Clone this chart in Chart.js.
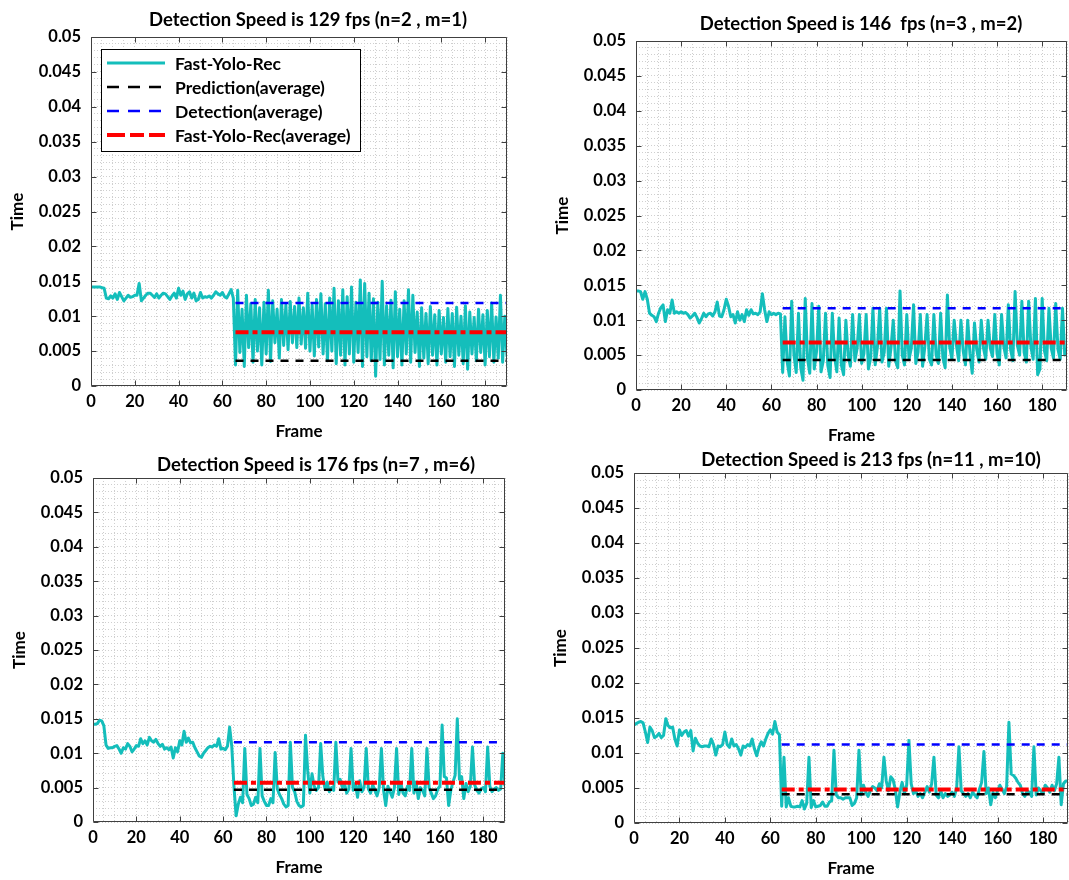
<!DOCTYPE html>
<html>
<head>
<meta charset="utf-8">
<title>Fast-Yolo-Rec timing</title>
<script src="https://cdn.jsdelivr.net/npm/chart.js@4.4.1/dist/chart.umd.min.js"></script>
<style>
  html, body { margin: 0; padding: 0; background: #fff; overflow: hidden; }
  body { width: 1069px; height: 880px; position: relative; }
  canvas { position: absolute; }
</style>
</head>
<body>
<canvas id="p1"></canvas>
<canvas id="p2"></canvas>
<canvas id="p3"></canvas>
<canvas id="p4"></canvas>
<script>
// ---- data (times in milliseconds, one value per frame starting at frame 0) ----
const panelTitles = [
  'Detection Speed is 129 fps (n=2 , m=1)',
  'Detection Speed is 146  fps (n=3 , m=2)',
  'Detection Speed is 176 fps (n=7 , m=6)',
  'Detection Speed is 213 fps (n=11 , m=10)'
];
const seriesLabels = ['Fast-Yolo-Rec', 'Prediction(average)', 'Detection(average)', 'Fast-Yolo-Rec(average)'];
const frameMax = [190, 191, 190, 191];
const avgStart = [66, 65, 65, 65];
const predictionAvg = [3.6, 4.3, 4.7, 4.1];
const detectionAvg = [11.9, 11.7, 11.6, 11.2];
const recAvg = [7.7, 6.8, 5.7, 4.8];
const xTickLabels = [0, 20, 40, 60, 80, 100, 120, 140, 160, 180];
const yTickLabels = [0, 0.005, 0.01, 0.015, 0.02, 0.025, 0.03, 0.035, 0.04, 0.045, 0.05];

const recTimeN2 = [
  14.2,14.2,14.2,14.2,14.2,14.1,14.0,12.6,12.5,12.9,
  12.6,13.2,12.4,13.4,12.8,12.2,12.6,13.0,12.7,12.8,
  13.0,13.0,14.7,12.2,12.6,13.0,13.3,13.3,13.0,12.7,
  13.2,12.6,13.0,13.3,13.2,12.8,12.4,12.9,13.3,12.6,
  14.0,13.0,13.6,12.4,13.2,13.5,12.6,13.3,12.2,12.4,
  13.4,12.6,12.8,12.7,12.9,12.6,13.0,13.5,13.2,13.0,
  13.4,12.8,12.6,13.2,13.8,12.6,
  3.0,13.7,4.8,11.0,
  2.8,13.0,5.5,11.8,3.4,12.4,5.0,11.2,3.0,12.0,
  4.6,13.7,3.5,12.2,6.2,11.0,4.0,12.4,5.8,11.6,
  5.2,12.1,6.2,11.4,5.5,12.6,6.0,11.2,5.4,13.3,
  5.0,11.6,4.3,12.4,5.6,13.2,4.6,11.8,3.6,12.6,
  5.0,14.0,3.2,12.2,4.4,13.8,3.0,12.8,4.6,14.2,
  3.4,12.0,4.8,15.2,2.8,14.7,4.2,13.3,3.6,12.5,
  1.4,12.0,3.8,15.0,3.0,11.5,4.4,12.3,2.6,13.5,
  4.2,11.0,3.0,12.2,4.6,13.8,3.4,13.0,4.8,10.6,
  2.8,11.2,4.0,10.4,3.2,11.4,4.4,10.2,3.0,10.8,
  4.6,9.8,3.4,11.1,4.2,10.4,2.8,11.3,4.4,10.0,
  3.2,11.5,2.4,10.6,4.6,9.8,3.6,11.0,4.8,10.2,
  3.0,10.8,4.2,11.9,3.4,9.9,4.0,13.0,3.4,10.0,4.2
];
const recTimeN3 = [
  14.2,14.2,14.1,13.0,14.1,13.0,11.0,10.7,10.5,9.8,
  11.0,11.8,12.2,9.8,11.5,11.0,12.9,11.0,11.2,11.0,
  11.2,11.0,11.1,10.8,10.3,10.6,11.0,10.4,9.6,10.2,
  11.0,10.5,10.9,11.0,10.6,11.2,12.6,10.6,10.5,11.5,
  13.0,12.0,10.5,10.8,9.6,11.2,10.0,10.8,9.8,11.5,
  10.7,11.5,10.9,11.0,10.8,11.2,13.8,11.5,9.8,11.2,
  10.8,11.0,10.8,11.0,10.9,
  2.5,10.5,4.0,2.0,12.7,
  5.0,2.5,11.0,3.2,1.4,13.1,4.5,2.4,12.4,3.0,
  5.5,12.0,2.6,4.2,11.0,3.5,1.8,11.0,4.8,2.6,
  10.3,3.6,2.2,10.0,5.0,3.4,10.8,4.2,6.0,10.8,
  3.8,5.2,10.8,3.0,4.6,11.7,3.6,6.2,11.7,4.0,
  5.4,11.7,3.4,6.0,10.0,4.2,3.2,14.2,5.0,3.6,
  10.8,4.4,6.0,12.2,3.8,5.4,10.8,3.4,6.2,10.8,
  4.4,3.6,10.8,5.0,3.8,11.0,4.6,3.2,13.6,6.2,
  4.4,10.0,6.4,4.2,10.0,5.6,3.6,10.0,5.2,2.4,
  9.6,5.8,4.0,10.0,6.0,4.4,10.0,6.0,4.8,10.8,
  5.2,3.6,10.8,6.2,4.6,12.2,5.8,4.2,14.1,6.4,
  5.0,12.7,5.4,4.0,12.7,6.2,4.4,13.1,2.2,3.0,
  13.1,5.6,4.2,11.7,6.0,4.6,12.4,5.8,4.4,11.7,5.0,6.0
];
const recTimeN7 = [
  14.2,14.2,14.3,14.8,14.7,14.0,11.2,10.7,10.8,10.8,
  11.0,11.1,10.6,10.0,10.8,10.6,11.4,11.0,10.2,10.6,
  11.1,11.0,12.1,11.4,11.8,11.2,12.3,11.8,11.6,12.0,
  11.4,11.0,11.3,10.6,10.8,10.5,10.9,9.3,10.8,10.2,
  11.8,11.2,13.2,11.6,12.2,11.5,11.6,10.8,10.2,9.6,
  9.4,10.0,10.4,10.8,11.0,10.9,11.2,11.0,12.1,10.6,
  10.7,10.5,11.0,13.8,11.0,5.2,0.9,
  2.6,3.6,2.8,
  10.7,4.0,3.4,2.4,2.6,3.6,2.8,
  10.7,3.8,3.0,2.4,2.4,3.4,2.8,
  10.1,4.8,4.0,3.4,2.6,2.2,2.4,
  11.6,5.0,4.4,3.0,2.4,2.2,2.4,
  12.6,7.5,4.2,7.0,5.2,4.6,5.0,
  11.4,6.6,4.8,5.8,4.4,5.0,4.6,
  11.6,5.8,6.2,5.0,5.6,4.2,4.8,
  10.7,4.6,5.6,3.6,6.0,4.4,5.0,
  10.7,4.8,4.2,5.4,4.6,3.8,5.0,
  10.7,4.6,2.4,5.2,4.4,3.6,5.0,
  10.7,4.0,5.6,4.2,3.8,5.2,4.6,
  10.7,4.2,5.8,3.4,5.0,4.6,3.8,
  10.7,5.0,4.2,3.4,3.8,4.8,5.2,
  14.1,6.6,6.4,2.4,4.6,5.8,6.8,
  15.0,6.2,6.6,3.4,5.6,4.4,5.2,
  10.9,5.4,4.6,4.2,4.8,5.0,4.4,
  10.9,5.2,4.4,4.8,5.0,4.6,4.8,
  10.0,5.2
];
const recTimeN11 = [
  14.0,14.2,14.4,14.5,14.3,13.0,11.5,13.7,13.2,12.2,
  12.4,12.8,12.2,12.5,14.9,13.9,13.6,13.7,12.0,11.0,
  13.3,12.5,13.0,13.2,12.4,13.2,10.3,12.1,11.4,11.0,
  10.9,11.0,11.0,10.9,12.0,11.2,9.7,11.0,10.9,11.2,
  13.0,11.2,10.8,12.0,11.0,11.2,10.6,9.7,11.0,10.8,
  11.2,11.0,12.0,10.6,9.6,10.8,11.6,11.0,12.0,12.8,
  13.3,12.7,14.5,13.0,12.6,2.4,
  9.4,2.3,3.6,2.4,2.3,2.3,2.4,2.3,3.2,2.0,2.8,
  9.4,2.2,3.2,2.3,2.4,2.5,3.0,2.4,2.4,3.0,3.2,
  10.4,4.0,3.6,3.6,3.4,3.6,3.6,3.6,2.5,2.8,3.6,
  10.4,4.0,5.4,4.4,3.8,4.6,5.2,5.0,4.6,5.6,5.0,
  9.4,6.0,4.6,6.6,6.2,4.8,2.3,4.4,5.8,4.2,5.4,
  11.8,5.6,4.2,4.6,3.8,4.2,3.6,4.4,5.2,4.4,5.6,
  9.4,4.0,3.6,4.6,3.6,4.2,3.8,4.0,4.4,3.8,5.0,
  10.9,4.6,4.2,3.8,4.2,3.6,4.4,4.0,3.6,4.8,5.8,
  10.2,4.2,5.0,2.6,4.4,3.6,4.6,5.4,4.8,4.2,5.2,
  14.4,7.0,6.8,6.4,5.8,5.4,4.2,3.8,4.6,4.4,3.8,
  10.9,4.0,5.0,4.6,4.2,5.4,5.0,4.4,5.4,4.6,5.6,
  9.4,2.6,5.6,6.0,6.0
];
const recTimes = [recTimeN2, recTimeN3, recTimeN7, recTimeN11];

// ---- layout of the four panels (page pixels) ----
const panels = [
  { id: 'p1', left: 0,   top: 0,   w: 517, h: 442, padTop: 37, xAxisH: 56, title: [308, 20.5], legend: true },
  { id: 'p2', left: 545, top: 4,   w: 532, h: 442, padTop: 37, xAxisH: 56, title: [316, 20],   legend: false },
  { id: 'p3', left: 2,   top: 441, w: 513, h: 437, padTop: 37, xAxisH: 56, title: [314, 24],   legend: false },
  { id: 'p4', left: 543, top: 436, w: 535, h: 443, padTop: 37, xAxisH: 56, title: [328, 24],   legend: false }
];

const FONT = 'Lato, "Open Sans", sans-serif';
const CYAN = 'rgb(20,190,187)';

// frame box with MATLAB style inward ticks on all four sides
const frameTicks = {
  id: 'frameTicks',
  afterDatasetsDraw(chart) {
    const { ctx, chartArea: a, scales: { x, y } } = chart;
    const L = Math.round(a.left) + 0.5, R = Math.round(a.right) - 0.5;
    const T = Math.round(a.top) + 0.5, B = Math.round(a.bottom) - 0.5;
    ctx.save();
    ctx.strokeStyle = '#404040';
    ctx.lineWidth = 1;
    ctx.beginPath();
    xTickLabels.forEach(v => {
      const px = Math.round(x.getPixelForValue(v)) + 0.5;
      ctx.moveTo(px, B); ctx.lineTo(px, B - 5);
      ctx.moveTo(px, T); ctx.lineTo(px, T + 5);
    });
    yTickLabels.forEach(v => {
      const py = Math.round(y.getPixelForValue(v)) + 0.5;
      ctx.moveTo(L, py); ctx.lineTo(L + 5, py);
      ctx.moveTo(R, py); ctx.lineTo(R - 5, py);
    });
    ctx.rect(L, T, R - L, B - T);
    ctx.stroke();
    ctx.restore();
  }
};

const panelTitle = {
  id: 'panelTitle',
  afterDraw(chart, args, opts) {
    const { ctx } = chart;
    ctx.save();
    ctx.font = 'bold 18.5px ' + FONT;
    ctx.fillStyle = '#000';
    ctx.textAlign = 'center';
    ctx.textBaseline = 'middle';
    ctx.fillText(opts.text, opts.x, opts.y);
    ctx.restore();
  }
};

// boxed legend drawn inside the plot area (top-left), like the MATLAB one
const boxLegend = {
  id: 'boxLegend',
  afterDraw(chart, args, opts) {
    if (!opts.show) return;
    const { ctx, chartArea: a } = chart;
    const x0 = Math.round(a.left) + 10, y0 = Math.round(a.top) + 12, w = 259, h = 102;
    ctx.save();
    ctx.fillStyle = '#fff';
    ctx.fillRect(x0, y0, w, h);
    ctx.strokeStyle = '#000';
    ctx.lineWidth = 1;
    ctx.strokeRect(x0 + 0.5, y0 + 0.5, w, h);
    chart.data.datasets.forEach((ds, i) => {
      const yy = y0 + 14 + i * 24;
      ctx.beginPath();
      ctx.setLineDash(ds.legendDash || []);
      ctx.lineWidth = ds.borderWidth;
      ctx.strokeStyle = ds.borderColor;
      ctx.moveTo(x0 + 6, yy);
      ctx.lineTo(x0 + 64, yy);
      ctx.stroke();
      ctx.setLineDash([]);
      ctx.fillStyle = '#000';
      ctx.font = 'bold 17.5px ' + FONT;
      ctx.textBaseline = 'middle';
      ctx.fillText(ds.label, x0 + 74, yy + 1);
    });
    ctx.restore();
  }
};

function buildPanel(p, k) {
  const canvas = document.getElementById(p.id);
  canvas.width = p.w;
  canvas.height = p.h;
  canvas.style.left = p.left + 'px';
  canvas.style.top = p.top + 'px';

  const xMax = frameMax[k];
  const avgLine = v => [{ x: avgStart[k], y: v / 1000 }, { x: xMax, y: v / 1000 }];
  const tickFont = { family: FONT, size: 16.5, weight: 'bold' };
  const titleFont = { family: FONT, size: 17, weight: 'bold' };
  const gridColor = '#cfcfcf';

  new Chart(canvas, {
    type: 'line',
    data: {
      datasets: [
        {
          label: seriesLabels[0],
          data: recTimes[k].map((t, i) => ({ x: i, y: t / 1000 })),
          borderColor: CYAN, borderWidth: 3, pointRadius: 0,
          borderJoinStyle: 'round', tension: 0, order: 4
        },
        {
          label: seriesLabels[1], data: avgLine(predictionAvg[k]),
          borderColor: '#000', borderWidth: 2.5, borderDash: [8, 7], legendDash: [12, 9],
          pointRadius: 0, order: 3
        },
        {
          label: seriesLabels[2], data: avgLine(detectionAvg[k]),
          borderColor: '#0000ff', borderWidth: 2.5, borderDash: [8, 7], legendDash: [12, 9],
          pointRadius: 0, order: 2
        },
        {
          label: seriesLabels[3], data: avgLine(recAvg[k]),
          borderColor: '#ff0000', borderWidth: 4, borderDash: [13, 4, 5, 4], legendDash: [18, 5, 14, 5],
          pointRadius: 0, order: 1
        }
      ]
    },
    options: {
      responsive: false,
      animation: false,
      devicePixelRatio: 1,
      events: [],
      layout: { padding: { top: p.padTop, right: 10, left: 0, bottom: 0 } },
      plugins: {
        legend: { display: false },
        tooltip: { enabled: false },
        panelTitle: { text: panelTitles[k], x: p.title[0], y: p.title[1] },
        boxLegend: { show: p.legend }
      },
      scales: {
        x: {
          type: 'linear', min: 0, max: xMax,
          afterFit: s => { s.height = p.xAxisH; },
          ticks: {
            stepSize: 5, autoSkip: false, maxRotation: 0, padding: 6,
            color: '#000', font: tickFont,
            callback: v => (xTickLabels.includes(v) ? String(v) : '')
          },
          grid: { color: gridColor, drawTicks: false, lineWidth: 1 },
          border: { display: false, dash: [1, 2] },
          title: { display: true, text: 'Frame', color: '#000', font: titleFont, padding: { top: 0, bottom: 0 } }
        },
        y: {
          min: 0, max: 0.05,
          afterFit: s => { s.width = 91; },
          ticks: {
            stepSize: 0.001, autoSkip: false, padding: 10,
            color: '#000', font: tickFont,
            callback: v => {
              const m = Math.round(v * 1000);
              return m % 5 === 0 ? String(parseFloat((m / 1000).toFixed(3))) : '';
            }
          },
          grid: { color: gridColor, drawTicks: false, lineWidth: 1 },
          border: { display: false, dash: [1, 2] },
          title: { display: true, text: 'Time', color: '#000', font: titleFont, padding: { top: 7, bottom: 0 } }
        }
      }
    },
    plugins: [frameTicks, panelTitle, boxLegend]
  });
}

panels.forEach(buildPanel);
</script>
</body>
</html>
